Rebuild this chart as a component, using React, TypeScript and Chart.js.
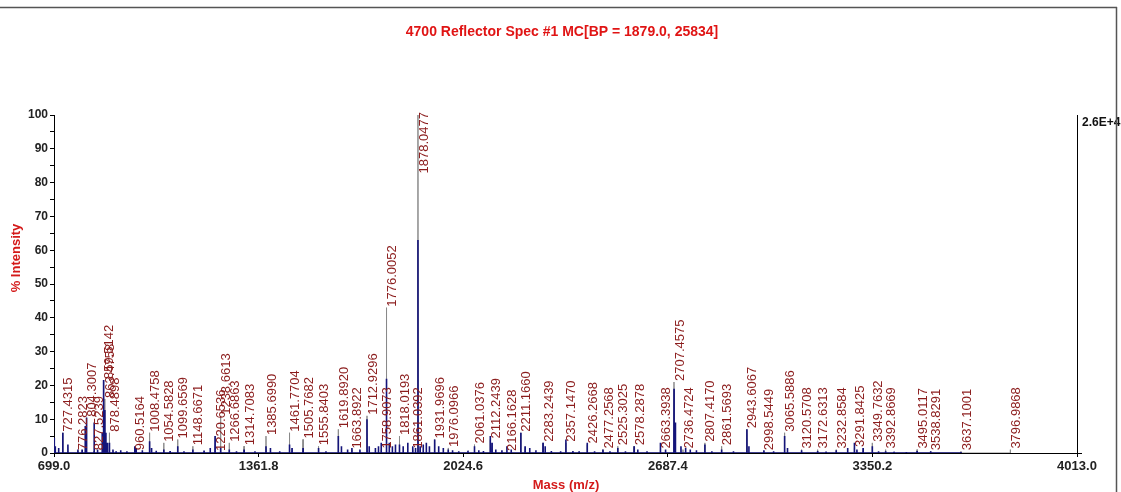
import React, { useEffect, useRef } from "react";
import { Chart, registerables } from "chart.js";

Chart.register(...registerables);

const TITLE = "4700 Reflector Spec #1 MC[BP = 1879.0, 25834]";
const X_TITLE = "Mass (m/z)";
const Y_TITLE = "% Intensity";
const RIGHT_LABEL = "2.6E+4";

const X_TICKS = [699.0, 1361.8, 2024.6, 2687.4, 3350.2, 4013.0];

// Labelled (centroid) peaks: m/z and % intensity
const PEAK_MZ = [
  727.4315, 776.2823, 804.3007, 827.5239, 859.5142, 863.4758, 878.4898, 960.5164,
  1008.4758, 1054.5828, 1099.6569, 1148.6671, 1220.6536, 1238.6613, 1266.6863,
  1314.7083, 1385.699, 1461.7704, 1505.7682, 1555.8403, 1619.892, 1663.8922,
  1712.9296, 1758.9073, 1776.0052, 1818.0193, 1861.0392, 1878.0477, 1931.9696,
  1976.0966, 2061.0376, 2112.2439, 2166.1628, 2211.166, 2283.2439, 2357.147,
  2426.2668, 2477.2568, 2525.3025, 2578.2878, 2663.3938, 2707.4575, 2736.4724,
  2807.417, 2861.5693, 2943.6067, 2998.5449, 3065.5886, 3120.5708, 3172.6313,
  3232.8584, 3291.8425, 3349.7632, 3392.8669, 3495.0117, 3538.8291, 3637.1001,
  3796.9868,
];
const PEAK_INT = [
  6, 0.5, 10.4, 0.5, 21.6, 16, 6, 0.5,
  6, 3, 4, 2, 0, 11, 3,
  2, 5, 6, 4, 2, 7, 1,
  11, 1, 43, 5, 1, 100, 4,
  1.5, 2.5, 4, 0, 6, 3, 3,
  2.5, 1, 2, 2, 1, 21, 1,
  3, 2, 7, 0.5, 6, 1, 1,
  1, 1.5, 3, 1, 1, 0.5, 0.5,
  1,
];

// Raw profile trace (blue) sticks: m/z and % intensity
const PROFILE_MZ = [
  700, 703, 714, 727.4, 744, 776.3, 790, 800, 804.3, 829, 840, 855, 859.5, 863.5,
  867, 872, 878.5, 890, 900, 915, 935, 960.5, 965, 985, 1008.5, 1015, 1030, 1054.6,
  1075, 1099.7, 1120, 1148.7, 1185, 1205, 1220.7, 1238.7, 1266.7, 1290, 1314.7,
  1350, 1385.7, 1400, 1430, 1461.8, 1470, 1505.8, 1555.8, 1580, 1619.9, 1630,
  1650, 1663.9, 1690, 1712.9, 1720, 1740, 1750, 1758.9, 1776, 1785, 1795, 1805,
  1818, 1830, 1845, 1861, 1870, 1878, 1885, 1895, 1905, 1915, 1931.9, 1945, 1960,
  1976, 1990, 2010, 2040, 2061, 2075, 2090, 2112.2, 2118, 2130, 2150, 2166, 2180,
  2211.2, 2225, 2240, 2260, 2283.2, 2290, 2310, 2340, 2357.1, 2380, 2400, 2426.3,
  2450, 2477.3, 2500, 2525.3, 2550, 2578.3, 2590, 2620, 2663.4, 2680, 2707.5, 2712,
  2730, 2745, 2760, 2780, 2807.4, 2830, 2861.6, 2900, 2943.6, 2950, 2998.5, 3030,
  3065.6, 3075, 3120.6, 3172.6, 3200, 3232.9, 3270, 3291.8, 3300, 3320, 3349.8,
  3370, 3392.9, 3420, 3460, 3495, 3538.8, 3637.1,
];
const PROFILE_INT = [
  4.5, 2, 1.5, 6, 2.5, 1, 1, 8, 10.5, 9, 1, 6, 21.6, 12.7,
  6, 3, 3, 1, 0.5, 0.8, 0.5, 2, 1.5, 0.8, 3.5, 1.5, 0.7, 1,
  0.6, 2, 0.5, 1, 0.7, 1.5, 5, 1.5, 1, 0.5, 1,
  0.5, 2, 1.5, 0.5, 2.5, 1.5, 1.5, 1.5, 0.5, 5, 2,
  1, 1.5, 1, 10, 2, 1.5, 2, 3, 22, 3, 2, 2.5,
  2.5, 2, 3, 2, 1.5, 63, 2, 2.5, 3, 2, 4, 2, 1.5,
  1, 0.8, 0.5, 0.7, 2, 0.8, 0.6, 5, 3, 1, 0.8, 2, 1,
  6, 2, 1.5, 0.8, 3, 2, 0.6, 0.5, 4, 0.6, 0.5, 3,
  0.5, 1, 0.5, 1.5, 0.5, 2, 1, 0.5, 3, 1, 19, 9,
  2, 1.5, 1, 0.8, 2.5, 0.5, 1, 0.5, 7, 2, 0.8, 0.5,
  5, 1.5, 0.8, 0.6, 0.4, 0.8, 1.5, 3, 1, 1.5, 2,
  0.5, 0.5, 0.4, 0.3, 0.6, 0.5, 0.3,
];

const PROFILE_END = 3460;

function sticks(mz: number[], ints: number[], start: number | null, end: number | null) {
  const pts: { x: number; y: number }[] = [];
  if (start !== null) pts.push({ x: start, y: 0 });
  const idx = mz.map((_, i) => i).sort((a, b) => mz[a] - mz[b]);
  for (const i of idx) {
    pts.push({ x: mz[i] - 0.4, y: 0 });
    pts.push({ x: mz[i], y: ints[i] });
    pts.push({ x: mz[i] + 0.4, y: 0 });
  }
  if (end !== null) pts.push({ x: end, y: 0 });
  return pts;
}

const decorPlugin = {
  id: "decor",
  afterDraw(chart: any) {
    const { ctx, chartArea, scales } = chart;
    const xs = scales.x;
    const ys = scales.y;
    ctx.save();
    // right axis
    ctx.strokeStyle = "#000";
    ctx.lineWidth = 1;
    ctx.beginPath();
    ctx.moveTo(chartArea.right + 0.5, chartArea.top);
    ctx.lineTo(chartArea.right + 0.5, chartArea.bottom);
    ctx.moveTo(chartArea.right, chartArea.bottom + 0.5);
    ctx.lineTo(chartArea.right + 5, chartArea.bottom + 0.5);
    ctx.stroke();
    // right label
    ctx.fillStyle = "#111";
    ctx.font = "bold 12px 'Liberation Sans', Arial, sans-serif";
    ctx.textAlign = "left";
    ctx.textBaseline = "middle";
    ctx.fillText(RIGHT_LABEL, chartArea.right + 5, chartArea.top + 8);
    // frame lines
    ctx.strokeStyle = "#555";
    ctx.lineWidth = 1.5;
    ctx.beginPath();
    ctx.moveTo(0, 7.5);
    ctx.lineTo(1117, 7.5);
    ctx.moveTo(1116.5, 7);
    ctx.lineTo(1116.5, 492);
    ctx.stroke();

    // title
    ctx.fillStyle = "#e01414";
    ctx.font = "bold 14px 'Liberation Sans', Arial, sans-serif";
    ctx.textAlign = "center";
    ctx.textBaseline = "middle";
    ctx.fillText(TITLE, 562, 32);
    // axis titles
    ctx.font = "bold 13px 'Liberation Sans', Arial, sans-serif";
    ctx.fillStyle = "#d41a1a";
    ctx.fillText(X_TITLE, 566, 485);
    ctx.save();
    ctx.translate(16, 258);
    ctx.rotate(-Math.PI / 2);
    ctx.fillText(Y_TITLE, 0, 0);
    ctx.restore();

    // peak labels
    ctx.font = "13px 'Liberation Sans', Arial, sans-serif";
    ctx.fillStyle = "#8b1c1c";
    ctx.textAlign = "left";
    ctx.textBaseline = "middle";
    PEAK_MZ.forEach((m, i) => {
      const label = m.toFixed(4);
      const w = ctx.measureText(label).width;
      const px = xs.getPixelForValue(m) + 6;
      let yb = Math.min(ys.getPixelForValue(PEAK_INT[i]) - 1, chartArea.bottom - 2);
      if (yb - w < chartArea.top - 3) yb = chartArea.top - 3 + w;
      ctx.save();
      ctx.translate(px, yb);
      ctx.rotate(-Math.PI / 2);
      ctx.fillText(label, 0, 0);
      ctx.restore();
    });
    ctx.restore();
  },
};

export default function App() {
  const ref = useRef<HTMLCanvasElement | null>(null);
  useEffect(() => {
    if (!ref.current) return;
    const chart = new Chart(ref.current, {
      type: "line",
      data: {
        datasets: [
          {
            label: "profile",
            data: sticks(PROFILE_MZ, PROFILE_INT, 699, PROFILE_END),
            borderColor: "#14147a",
            borderWidth: 1.6,
            pointRadius: 0,
            tension: 0,
          },
          {
            label: "centroid",
            data: sticks(PEAK_MZ, PEAK_INT, null, null),
            borderColor: "#8a8a8a",
            borderWidth: 1,
            pointRadius: 0,
            tension: 0,
          },
        ],
      },
      options: {
        responsive: false,
        animation: false,
        devicePixelRatio: 1,
        parsing: false,
        normalized: true,
        layout: { padding: { left: 0, top: 115, right: 44, bottom: 0 } },
        plugins: { legend: { display: false }, title: { display: false }, tooltip: { enabled: false } },
        scales: {
          x: {
            type: "linear",
            min: 699,
            max: 4013,
            afterBuildTicks: (scale: any) => {
              scale.ticks = X_TICKS.map((v) => ({ value: v }));
            },
            afterFit: (scale: any) => {
              scale.height = 39;
            },
            grid: { drawOnChartArea: false, drawTicks: true, tickLength: 4, color: "#000" },
            border: { display: true, color: "#000", width: 1 },
            ticks: {
              autoSkip: false,
              maxRotation: 0,
              padding: 2,
              color: "#222",
              font: { family: "'Liberation Sans', Arial, sans-serif", size: 13, weight: "bold" },
              callback: (v: any) => Number(v).toFixed(1),
            },
          },
          y: {
            min: 0,
            max: 100,
            afterFit: (scale: any) => {
              scale.width = 54;
            },
            grid: { drawOnChartArea: false, drawTicks: true, tickLength: 4, color: "#000" },
            border: { display: true, color: "#000", width: 1 },
            ticks: {
              stepSize: 5,
              autoSkip: false,
              padding: 2,
              color: "#222",
              font: { family: "'Liberation Sans', Arial, sans-serif", size: 12, weight: "bold" },
              callback: (v: any) => (Number(v) % 10 === 0 ? String(v) : ""),
            },
          },
        },
      },
      plugins: [decorPlugin],
    } as any);
    return () => chart.destroy();
  }, []);
  return (
    <div style={{ position: "fixed", left: 0, top: 0, width: 1121, height: 492, background: "#fff" }}>
      <canvas ref={ref} width={1121} height={492} style={{ display: "block" }} />
    </div>
  );
}
